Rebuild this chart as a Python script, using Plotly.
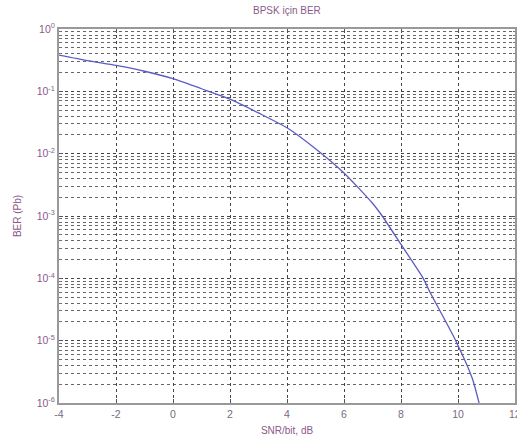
import plotly.graph_objects as go

snr_db = [-4, -3, -2, -1, 0, 1, 2, 3, 4, 5, 6, 7, 7.34, 8, 8.78, 9, 9.92, 10.5, 10.74]
ber = [0.38, 0.31, 0.26, 0.21, 0.16, 0.11, 0.075, 0.045, 0.026, 0.012, 0.0049,
       0.0016, 1e-3, 3.5e-4, 1e-4, 6.2e-5, 1e-5, 2.5e-6, 1e-6]

x_ticks = [-4, -2, 0, 2, 4, 6, 8, 10, 12]
y_tick_vals = [1, 1e-1, 1e-2, 1e-3, 1e-4, 1e-5, 1e-6]
y_tick_text = ["10<sup>0</sup>", "10<sup>-1</sup>", "10<sup>-2</sup>", "10<sup>-3</sup>",
               "10<sup>-4</sup>", "10<sup>-5</sup>", "10<sup>-6</sup>"]
minor_vals = [k * 10.0 ** e for e in range(-6, 0) for k in range(2, 10)]

label_col = "#8a5a8a"
tick_col = "#7a6a80"

fig = go.Figure()
fig.add_trace(go.Scatter(x=snr_db, y=ber, mode="lines",
                         line=dict(color="#5b5bc4", width=1.3, shape="spline", smoothing=0.6),
                         showlegend=False, hoverinfo="skip"))

fig.update_layout(
    width=517, height=441,
    margin=dict(l=59, r=2, t=29, b=38, autoexpand=False),
    paper_bgcolor="white", plot_bgcolor="white",
    title=dict(text="BPSK için BER", x=0.555, xanchor="center", y=0.985, yanchor="top",
               font=dict(family="Liberation Sans, Arial", size=10, color=label_col)),
    font=dict(family="Liberation Sans, Arial", size=10, color=tick_col),
)
fig.update_xaxes(
    automargin=False,
    range=[-4, 12], tickvals=x_ticks, ticktext=[str(v) for v in x_ticks],
    showgrid=True, gridcolor="#444", griddash="dot", gridwidth=1,
    showline=True, linecolor="#999", linewidth=2, mirror="ticks",
    ticks="inside", ticklen=4, tickcolor="#555", zeroline=False,
    tickfont=dict(size=10.5, color=tick_col),
    title=dict(text="SNR/bit, dB", standoff=8, font=dict(size=10, color=label_col)),
)
fig.update_yaxes(
    automargin=False,
    type="log", range=[-6, 0], tickvals=y_tick_vals, ticktext=y_tick_text,
    showgrid=True, gridcolor="#444", griddash="dot", gridwidth=1,
    minor=dict(tickvals=minor_vals, showgrid=True, gridcolor="#666", griddash="dot",
               gridwidth=1, ticks="inside", ticklen=2, tickcolor="#777"),
    showline=True, linecolor="#999", linewidth=2, mirror="ticks",
    ticks="inside", ticklen=4, tickcolor="#555", zeroline=False,
    tickfont=dict(size=10.5, color=label_col),
    title=dict(text="BER (Pb)", standoff=13, font=dict(size=10, color=label_col)),
)
# last x tick label, partly cut at the right edge like the reference
fig.add_annotation(x=x_ticks[-1], xref="x", y=0, yref="paper", yanchor="top", yshift=-3,
                   text=str(x_ticks[-1]), showarrow=False,
                   font=dict(size=10.5, color=tick_col))

fig.write_html("out.html", config={"displayModeBar": False},
               post_script="document.body.style.margin='0';document.body.style.overflow='hidden';")
